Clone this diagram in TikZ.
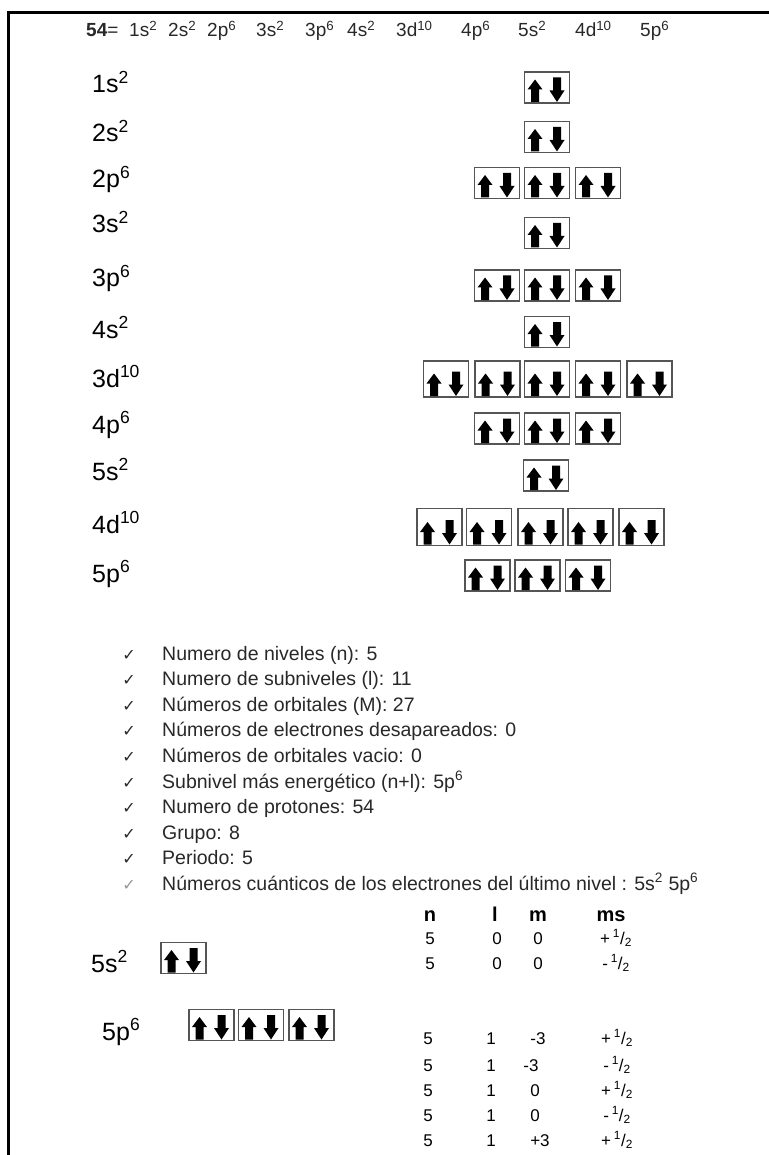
\documentclass[tikz,border=0pt]{standalone}
\usepackage{fontspec}
\setmainfont{Liberation Sans}
\newfontfamily\symfont{DejaVu Sans}
\usetikzlibrary{positioning, arrows.meta}
\definecolor{boxgray}{RGB}{85,85,85}
\definecolor{txtdark}{RGB}{40,40,40}
\definecolor{tickgray}{RGB}{150,150,150}
\tikzset{
  orbbox/.style={rectangle, draw=boxgray, line width=1.6pt, minimum width=45pt, inner sep=0pt},
  lvl/.style={anchor=base west, font=\fontsize{25}{30}\selectfont, inner sep=0pt},
  cfg/.style={anchor=base west, font=\fontsize{19}{23}\selectfont, inner sep=0pt, text=txtdark},
  item/.style={anchor=base west, font=\fontsize{19.5}{23}\selectfont, inner sep=0pt, text=txtdark},
  tick/.style={anchor=base, font=\symfont\fontsize{16}{18}\selectfont, inner sep=0pt, text=txtdark},
  hdr/.style={anchor=base, font=\bfseries\fontsize{20}{24}\selectfont, inner sep=0pt},
  cell/.style={anchor=base, font=\fontsize{17}{20}\selectfont, inner sep=0pt},
  pics/orbital/.style={code={
    \node[orbbox, minimum height=#1pt] (-box) {};
    \begin{scope}[shift={(0,{(#1-31)/2})}]
      % spin up
      \fill (-12,-8) -- (-19.5,2) -- (-16,2) -- (-16,14.5) -- (-8,14.5) -- (-8,2) -- (-4.5,2) -- cycle;
      % spin down
      \fill (6,-10) -- (14,-10) -- (14,3) -- (17.5,3) -- (10,14.5) -- (2.5,3) -- (6,3) -- cycle;
    \end{scope}
  }},
  pics/orbital/.default=31
}

\begin{document}
\begin{tikzpicture}[x=1pt, y=-1pt]
  \useasboundingbox (0,0) rectangle (768,1155);
  % frame
  \draw[line width=3pt] (8,1170) -- (8,13) -- (780,13);

  % configuration
  \node[cfg] (z) at (86,37) {\textbf{54}=};
  \foreach \lbl/\e/\x in {1s/2/129, 2s/2/168, 2p/6/207, 3s/2/256, 3p/6/305, 4s/2/347, 3d/10/396, 4p/6/461, 5s/2/518, 4d/10/575, 5p/6/640}
    \node[cfg] (c\lbl) at (\x,37) {\lbl\textsuperscript{\e}};

  % sublevel labels
  \foreach \lbl/\e/\y in {1s/2/93, 2s/2/142, 2p/6/188, 3s/2/233, 3p/6/287, 4s/2/338, 3d/10/387, 4p/6/433, 5s/2/480, 4d/10/533, 5p/6/582}
    \node[lvl] (l\lbl) at (92,\y) {\lbl\textsuperscript{\e}};

  % orbital diagram
  \pic (o1s) at (547,87.5) {orbital};
  \pic (o2s) at (547,137) {orbital};
  \foreach \x [count=\i] in {497,547,598} \pic (o2p\i) at (\x,183) {orbital};
  \pic (o3s) at (547,233) {orbital};
  \foreach \x [count=\i] in {497,547,598} \pic (o3p\i) at (\x,285.5) {orbital};
  \pic (o4s) at (547,332) {orbital};
  \foreach \x [count=\i] in {446,497.5,547,598,649.5} \pic (o3d\i) at (\x,379) {orbital=36};
  \foreach \x [count=\i] in {497,547,598} \pic (o4p\i) at (\x,428.5) {orbital};
  \pic (o5s) at (546,475.5) {orbital};
  \foreach \x [count=\i] in {439.5,489,540.5,590.5,641.5} \pic (o4d\i) at (\x,527) {orbital=37};
  \foreach \x [count=\i] in {487.5,537.5,588} \pic (o5p\i) at (\x,575.5) {orbital};

  % properties
  \foreach \txt [count=\i] in {Numero de niveles (n): 5, Numero de subniveles (l): 11, Números de orbitales (M): 27, Números de electrones desapareados: 0, Números de orbitales vacio: 0, Subnivel más energético (n+l): 5p\textsuperscript{6}, Numero de protones: 54, Grupo: 8, Periodo: 5}{
    \pgfmathsetmacro{\y}{660+(\i-1)*25.6}
    \node[tick] (t\i) at (129,\y) {✓};
    \node[item] (p\i) at (162,\y) {\txt};
  }
  \node[tick, text=tickgray] (t10) at (129,890) {✓};
  \node[item] (p10) at (162,890) {Números cuánticos de los electrones del último nivel : 5s\textsuperscript{2} 5p\textsuperscript{6}};

  % quantum numbers
  \node[hdr] (hn) at (430,921) {n};
  \node[hdr] (hl) at (495,921) {l};
  \node[hdr] (hm) at (538,921) {m};
  \node[hdr] (hms) at (611,921) {ms};
  \foreach \s/\y [count=\i] in {+/944, -/969} {
    \node[cell] (sn\i) at (430,\y) {5};
    \node[cell] (sl\i) at (497,\y) {0};
    \node[cell] (sm\i) at (538,\y) {0};
    \node[cell] (sms\i) at (616,\y) {\s\,\textsuperscript{1}/\textsubscript{2}};
  }
  \foreach \m/\mx/\s/\y [count=\i] in {-3/538/+/1044, -3/531/-/1071, 0/535/+/1096, 0/535/-/1121, +3/540/+/1146} {
    \node[cell] (pn\i) at (428,\y) {5};
    \node[cell] (pl\i) at (491,\y) {1};
    \node[cell] (pm\i) at (\mx,\y) {\m};
    \node[cell] (pms\i) at (617,\y) {\s\,\textsuperscript{1}/\textsubscript{2}};
  }

  % last level
  \node[lvl] (b5s) at (91,972) {5s\textsuperscript{2}};
  \pic (b5so) at (183.5,958) {orbital};
  \node[lvl] (b5p) at (102,1040) {5p\textsuperscript{6}};
  \foreach \x [count=\i] in {211.5,261,311.5} \pic (b5po\i) at (\x,1025) {orbital};
\end{tikzpicture}
\end{document}
